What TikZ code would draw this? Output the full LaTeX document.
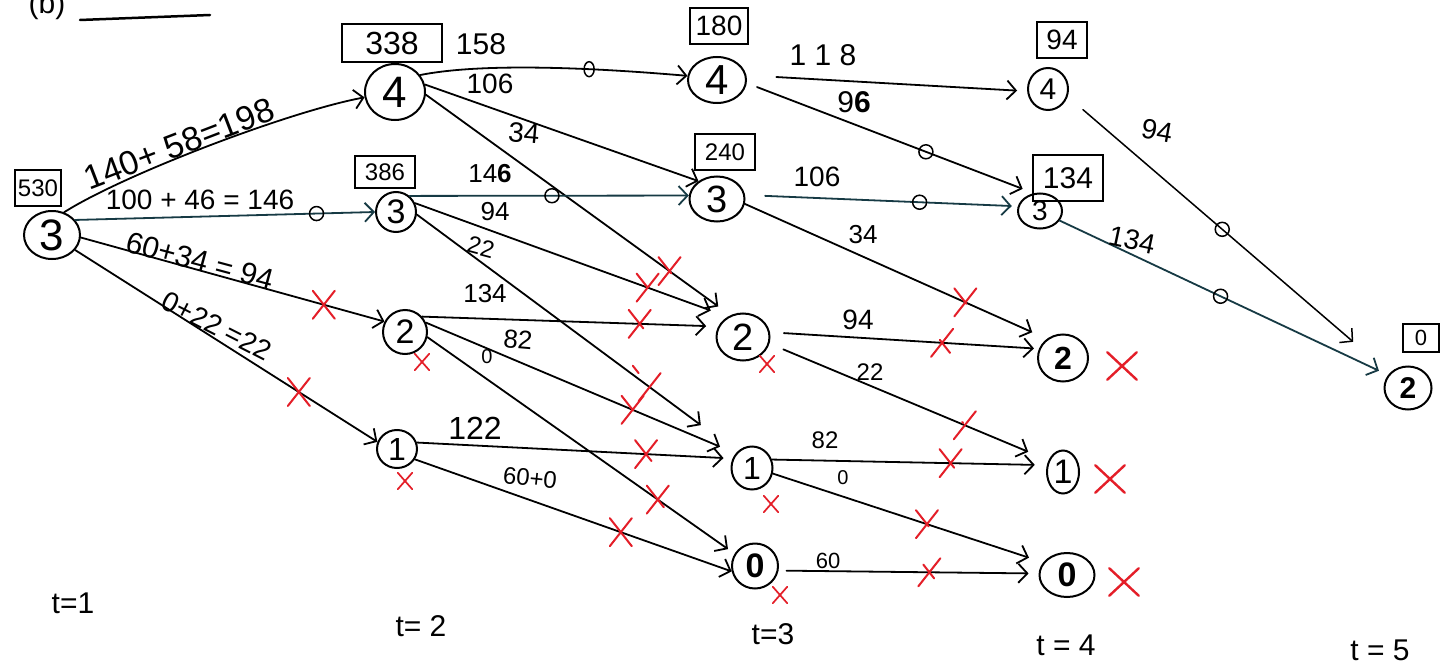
\documentclass[tikz,border=0pt]{standalone}
\usepackage{fontspec}
\setmainfont{Liberation Sans}
\usetikzlibrary{arrows.meta,shapes.geometric,shapes.misc}
\definecolor{redmark}{RGB}{228,30,40}
\definecolor{tealink}{RGB}{22,58,68}
\newcommand\myfs[1]{\fontsize{#1}{#1}\selectfont}
\begin{document}
\begin{tikzpicture}[x=1pt,y=-1pt,line width=1.8pt,line cap=round,
  nd/.style={draw,ellipse,inner sep=0pt,line width=2pt},
  valbox/.style={draw,rectangle,inner sep=0pt,line width=1.8pt},
  edge/.style={-{Straight Barb[length=9pt,width=19pt]}},
  lbl/.style={inner sep=0pt},
  ring/.style={draw,circle,minimum size=14pt,inner sep=0pt,line width=1.5pt},
  redx/.style={draw=redmark,cross out,minimum width=20pt,minimum height=26pt,inner sep=0pt,line width=2pt},
  smallx/.style={draw=redmark,cross out,minimum width=13pt,minimum height=15pt,inner sep=0pt,line width=1.7pt},
  bigx/.style={draw=redmark,cross out,minimum width=27pt,minimum height=25pt,inner sep=0pt,line width=2.4pt},
  tl/.style={inner sep=0pt,font={\myfs{30}}}]
\useasboundingbox (0,0) rectangle (1450,666);
\fill[white] (0,0) rectangle (1450,666);

% title
\node[lbl,anchor=base,font={\myfs{30}}] (title) at (47,14) {(b)};
\draw[line width=2.5pt] (80,20) -- (210,15);

% states t=1
\node[nd,minimum width=56,minimum height=48,font={\myfs{44}}] (a3) at (52,235) {3};
% t=2
\node[nd,minimum width=60,minimum height=56,font={\myfs{44}}] (b4) at (395,92) {4};
\node[nd,minimum width=40,minimum height=40,font={\myfs{34}}] (b3) at (396,212) {3};
\node[nd,minimum width=44,minimum height=44,font={\myfs{34}}] (b2) at (405,332) {2};
\node[nd,minimum width=40,minimum height=38,font={\myfs{32}}] (b1) at (397,449) {1};
% t=3
\node[nd,minimum width=58,minimum height=46,font={\myfs{42}}] (c4) at (717,80) {4};
\node[nd,minimum width=55,minimum height=45,font={\myfs{38}}] (c3) at (717,199) {3};
\node[nd,minimum width=53,minimum height=47,font={\myfs{38}}] (c2) at (743,337) {2};
\node[nd,minimum width=41,minimum height=43,font={\myfs{32}}] (c1) at (752,468) {1};
\node[nd,minimum width=46,minimum height=45,font={\myfs{34}\bfseries}] (c0) at (755,566) {0};
% t=4
\node[nd,minimum width=40,minimum height=42,font={\myfs{30}}] (d4) at (1048,89) {4};
\node[nd,minimum width=44,minimum height=35,font={\myfs{28}}] (d3) at (1040,211) {3};
\node[nd,minimum width=50,minimum height=47,font={\myfs{32}\bfseries}] (d2) at (1063,358) {2};
\node[nd,minimum width=32,minimum height=43,font={\myfs{34}}] (d1) at (1063,472) {1};
\node[nd,minimum width=55,minimum height=44,font={\myfs{34}\bfseries}] (d0) at (1067,575) {0};
% t=5
\node[nd,minimum width=47,minimum height=43,font={\myfs{30}\bfseries}] (e2) at (1408,388) {2};

% value boxes
\node[valbox,minimum width=46,minimum height=36,font={\myfs{24}}] (v530) at (38,188) {530};
\node[valbox,minimum width=100,minimum height=38,font={\myfs{32}}] (v338) at (392,43) {338};
\node[valbox,minimum width=60,minimum height=32,font={\myfs{24}}] (v386) at (385,172) {386};
\node[valbox,minimum width=58,minimum height=36,font={\myfs{28}}] (v180) at (719,26) {180};
\node[valbox,minimum width=60,minimum height=36,font={\myfs{24}}] (v240) at (725,152) {240};
\node[valbox,minimum width=50,minimum height=36,font={\myfs{28}}] (v94) at (1062,40) {94};
\node[valbox,minimum width=70,minimum height=46,font={\myfs{30}}] (v134) at (1068,178) {134};
\node[valbox,minimum width=36,minimum height=28,font={\myfs{22}}] (v0) at (1421,338) {0};

% edges t=1 -> t=2
\draw[edge] (a3.62) .. controls +(60,-38) and +(-75,14) .. (b4.190);
\draw[edge,draw=tealink] (a3.33) -- (b3.west) node[ring,draw=black,pos=0.805] (r1) {};
\draw[edge] (a3.-5) -- (b2.153) node[redx,pos=0.80] (x1) {};
\draw[edge] (a3.-33) -- (b1.160) node[redx,pos=0.74] (x2) {};

% edges t=2 -> t=3
\draw[edge] (b4.34) .. controls +(70,-14) and +(-70,-6) .. (c4.172) node[ring,pos=0.62,minimum width=10pt,minimum height=15pt,ellipse] (r2) {};
\draw[edge] (b4.14) -- (c3.136);
\draw[edge,shorten >=15pt] (b4.-5) -- (c2.120) node[redx,pos=0.80] (x3) {};
\draw[edge,draw=tealink] (b3.50) -- (c3.173) node[ring,draw=black,pos=0.51] (r3) {};
\draw[edge,shorten >=18pt] (b3.25) -- (c2.127) node[redx,pos=0.744] (x4) {};
\draw[edge,shorten >=45pt] (b3.-7) -- (c1.133) node[redx,pos=0.727] (x5) {};
\draw[edge,shorten >=12pt] (b2.42) -- (c2.157) node[redx,pos=0.735] (x6) {};
\draw[edge,shorten >=17pt] (b2.24) -- (c1.138) node[redx,pos=0.667] (x7) {};
\draw[edge,shorten >=8pt] (b2.-13) -- (c0.149) node[redx,pos=0.75] (x8) {};
\draw[edge,shorten >=9pt] (b1.18) -- (c1.154) node[redx,pos=0.726] (x9) {};
\draw[edge] (b1.-30) -- (c0.193) node[redx,pos=0.65] (x10) {};

% edges t=3 -> t=4
\draw[edge,shorten <=30pt,shorten >=10pt] (c4.9) -- (d4.186);
\draw[edge,shorten <=11pt,shorten >=12pt] (c4.-6) -- (d3.109) node[ring,pos=0.624] (r4) {};
\draw[edge,draw=tealink,shorten <=20pt,shorten >=6pt] (c3.8) -- (d3.168) node[ring,draw=black,pos=0.64] (r5) {};
\draw[edge,shorten >=16pt] (c3.-10) -- (d2.130) node[redx,pos=0.73] (x11) {};
\draw[edge,shorten <=14pt,shorten >=5pt] (c2.10) -- (d2.159) node[redx,pos=0.64] (x12) {};
\draw[edge,shorten <=15pt,shorten >=22pt] (c2.-14) -- (d1.141) node[redx,pos=0.70] (x13) {};
\draw[edge,shorten >=12pt] (c1.23) -- (d1.157) node[redx,pos=0.65] (x14) {};
\draw[edge,shorten >=15pt] (c1.-15) -- (d0.152) node[redx,pos=0.57] (x15) {};
\draw[edge,shorten <=8pt,shorten >=10pt] (c0.-11) -- (d0.177) node[redx,pos=0.58] (x16) {};

% edges t=4 -> t=5
\draw[edge,line width=1.5pt,shorten <=20pt,shorten >=48pt] (d4.-21) -- (e2.141) node[ring,pos=0.48] (r6) {};
\draw[edge,draw=tealink,shorten >=10pt] (d3.-26) -- (e2.147) node[ring,draw=black,pos=0.49] (r7) {};

% red marks beside nodes
\node[smallx] (sx1) at (422,362) {};
\node[smallx] (sx2) at (405,481) {};
\node[smallx] (sx3) at (767,364) {};
\node[smallx] (sx4) at (771,504) {};
\node[smallx] (sx5) at (780,595) {};
\node[bigx] (bx1) at (1122,366) {};
\node[bigx] (bx2) at (1110,479) {};
\node[bigx] (bx3) at (1124,582) {};

% edge labels
\node[lbl,rotate=21,font={\myfs{34}}] (l1) at (179,144) {140+ 58=198};
\node[lbl,font={\myfs{28}}] (l2) at (200,200) {100 + 46 = 146};
\node[lbl,rotate=-15,font={\myfs{30}}] (l3) at (200,261) {60+34 = 94};
\node[lbl,rotate=-27,font={\myfs{28}}] (l4) at (217,326) {0+22 =22};
\node[lbl,font={\myfs{30}}] (l5) at (481,44) {158};
\node[lbl,font={\myfs{28}}] (l6) at (490,84) {106};
\node[lbl,rotate=-5,font={\myfs{28}}] (l7) at (524,133) {34};
\node[lbl,font={\myfs{26}}] (l8) at (490,174) {14\textbf{6}};
\node[lbl,font={\myfs{26}}] (l9) at (495,212) {94};
\node[lbl,rotate=-15,font={\myfs{24}}] (l10) at (481,247) {22};
\node[lbl,font={\myfs{26}}] (l11) at (485,294) {134};
\node[lbl,rotate=-5,font={\myfs{26}}] (l12) at (518,340) {82};
\node[lbl,font={\myfs{20}}] (l13) at (487,357) {0};
\node[lbl,font={\myfs{32}}] (l14) at (475,428) {122};
\node[lbl,rotate=-6,font={\myfs{24}}] (l15) at (530,478) {60+0};
\node[lbl,font={\myfs{30}}] (l16) at (823,55) {1 1 8};
\node[lbl,font={\myfs{30}}] (l17) at (854,102) {9\textbf{6}};
\node[lbl,font={\myfs{28}}] (l18) at (817,177) {106};
\node[lbl,font={\myfs{26}}] (l19) at (863,235) {34};
\node[lbl,font={\myfs{28}}] (l20) at (858,320) {94};
\node[lbl,font={\myfs{24}}] (l21) at (870,372) {22};
\node[lbl,font={\myfs{24}}] (l22) at (825,440) {82};
\node[lbl,font={\myfs{20}}] (l23) at (843,478) {0};
\node[lbl,font={\myfs{22}}] (l24) at (828,561) {60};
\node[lbl,rotate=-10,font={\myfs{28}}] (l25) at (1157,131) {94};
\node[lbl,rotate=-12,font={\myfs{28}}] (l26) at (1132,240) {134};

% time labels
\node[tl] (t1) at (73,603) {t=1};
\node[tl] (t2) at (421,626) {t= 2};
\node[tl] (t3) at (773,634) {t=3};
\node[tl] (t4) at (1066,645) {t = 4};
\node[tl] (t5) at (1380,650) {t = 5};
\end{tikzpicture}
\end{document}
